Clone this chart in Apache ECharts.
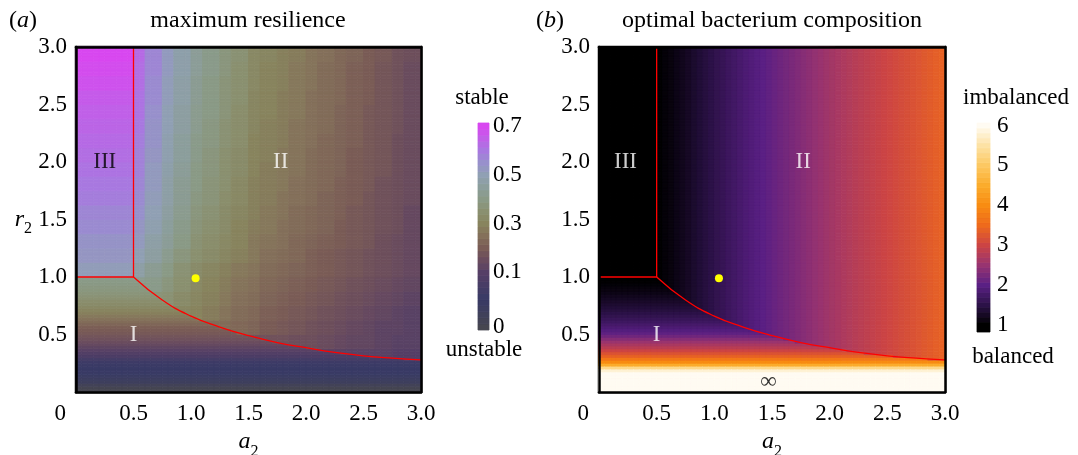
<!DOCTYPE html>
<html>
<head>
<meta charset="utf-8">
<title>maximum resilience / optimal bacterium composition</title>
<script src="https://cdn.jsdelivr.net/npm/echarts@6/dist/echarts.min.js"></script>
<style>
  html, body { margin: 0; padding: 0; background: #fff; }
  #chart { width: 1078px; height: 455px; }
</style>
</head>
<body>
<div id="chart"></div>
<script>
// fine cell centres shared by both panels (a2 step 0.05, r2 step 0.025)
var cellA2 = [0.025, 0.075, 0.125, 0.175, 0.225, 0.275, 0.325, 0.375, 0.425, 0.475,
              0.525, 0.575, 0.625, 0.675, 0.725, 0.775, 0.825, 0.875, 0.925, 0.975,
              1.025, 1.075, 1.125, 1.175, 1.225, 1.275, 1.325, 1.375, 1.425, 1.475,
              1.525, 1.575, 1.625, 1.675, 1.725, 1.775, 1.825, 1.875, 1.925, 1.975,
              2.025, 2.075, 2.125, 2.175, 2.225, 2.275, 2.325, 2.375, 2.425, 2.475,
              2.525, 2.575, 2.625, 2.675, 2.725, 2.775, 2.825, 2.875, 2.925, 2.975];
var cellR2 = [0.0125, 0.0375, 0.0625, 0.0875, 0.1125, 0.1375, 0.1625, 0.1875,
              0.2125, 0.2375, 0.2625, 0.2875, 0.3125, 0.3375, 0.3625, 0.3875,
              0.4125, 0.4375, 0.4625, 0.4875, 0.5125, 0.5375, 0.5625, 0.5875,
              0.6125, 0.6375, 0.6625, 0.6875, 0.7125, 0.7375, 0.7625, 0.7875,
              0.8125, 0.8375, 0.8625, 0.8875, 0.9125, 0.9375, 0.9625, 0.9875,
              1.0125, 1.0375, 1.0625, 1.0875, 1.1125, 1.1375, 1.1625, 1.1875,
              1.2125, 1.2375, 1.2625, 1.2875, 1.3125, 1.3375, 1.3625, 1.3875,
              1.4125, 1.4375, 1.4625, 1.4875, 1.5125, 1.5375, 1.5625, 1.5875,
              1.6125, 1.6375, 1.6625, 1.6875, 1.7125, 1.7375, 1.7625, 1.7875,
              1.8125, 1.8375, 1.8625, 1.8875, 1.9125, 1.9375, 1.9625, 1.9875,
              2.0125, 2.0375, 2.0625, 2.0875, 2.1125, 2.1375, 2.1625, 2.1875,
              2.2125, 2.2375, 2.2625, 2.2875, 2.3125, 2.3375, 2.3625, 2.3875,
              2.4125, 2.4375, 2.4625, 2.4875, 2.5125, 2.5375, 2.5625, 2.5875,
              2.6125, 2.6375, 2.6625, 2.6875, 2.7125, 2.7375, 2.7625, 2.7875,
              2.8125, 2.8375, 2.8625, 2.8875, 2.9125, 2.9375, 2.9625, 2.9875];

// panel (a): resilience on a coarse grid (step 0.125), rows from r2 = 3 down to 0
var resA2 = [0.0625, 0.1875, 0.3125, 0.4375, 0.5625, 0.6875, 0.8125, 0.9375, 1.0625, 1.1875, 1.3125, 1.4375,
             1.5625, 1.6875, 1.8125, 1.9375, 2.0625, 2.1875, 2.3125, 2.4375, 2.5625, 2.6875, 2.8125, 2.9375];
var resR2 = [0.0625, 0.1875, 0.3125, 0.4375, 0.5625, 0.6875, 0.8125, 0.9375, 1.0625, 1.1875, 1.3125, 1.4375,
             1.5625, 1.6875, 1.8125, 1.9375, 2.0625, 2.1875, 2.3125, 2.4375, 2.5625, 2.6875, 2.8125, 2.9375];
var resilience = [
  [0.70,0.70,0.70,0.70,0.63,0.57,0.52,0.48,0.44,0.41,0.38,0.36,0.32,0.31,0.29,0.28,0.26,0.25,0.23,0.22,0.20,0.19,0.17,0.16],
  [0.69,0.69,0.69,0.69,0.62,0.57,0.52,0.48,0.44,0.41,0.38,0.35,0.32,0.30,0.29,0.27,0.26,0.24,0.23,0.21,0.20,0.18,0.17,0.15],
  [0.68,0.68,0.68,0.68,0.62,0.56,0.51,0.47,0.43,0.40,0.37,0.35,0.32,0.30,0.29,0.27,0.26,0.24,0.23,0.21,0.20,0.18,0.17,0.15],
  [0.66,0.66,0.66,0.66,0.61,0.56,0.51,0.47,0.43,0.40,0.37,0.35,0.31,0.30,0.28,0.27,0.25,0.24,0.23,0.21,0.20,0.18,0.17,0.15],
  [0.65,0.65,0.65,0.65,0.61,0.55,0.50,0.46,0.42,0.40,0.37,0.34,0.31,0.30,0.28,0.27,0.25,0.24,0.22,0.21,0.19,0.18,0.17,0.15],
  [0.64,0.64,0.64,0.64,0.60,0.54,0.50,0.46,0.42,0.39,0.36,0.34,0.31,0.29,0.28,0.26,0.25,0.24,0.22,0.21,0.19,0.18,0.17,0.15],
  [0.63,0.63,0.63,0.63,0.59,0.54,0.49,0.45,0.41,0.39,0.36,0.34,0.30,0.29,0.28,0.26,0.25,0.23,0.22,0.21,0.19,0.18,0.16,0.15],
  [0.62,0.62,0.62,0.62,0.58,0.53,0.49,0.45,0.41,0.38,0.35,0.33,0.30,0.29,0.27,0.26,0.24,0.23,0.22,0.20,0.19,0.18,0.16,0.15],
  [0.61,0.61,0.61,0.61,0.58,0.52,0.48,0.44,0.40,0.38,0.35,0.33,0.30,0.28,0.27,0.26,0.24,0.23,0.22,0.20,0.19,0.18,0.16,0.15],
  [0.60,0.60,0.60,0.60,0.57,0.52,0.47,0.43,0.40,0.37,0.35,0.32,0.29,0.28,0.27,0.25,0.24,0.23,0.21,0.20,0.19,0.17,0.16,0.15],
  [0.59,0.59,0.59,0.59,0.56,0.51,0.47,0.43,0.39,0.37,0.34,0.32,0.29,0.28,0.26,0.25,0.24,0.22,0.21,0.20,0.18,0.17,0.16,0.15],
  [0.57,0.57,0.57,0.57,0.55,0.50,0.46,0.42,0.38,0.36,0.33,0.31,0.29,0.27,0.26,0.24,0.23,0.22,0.21,0.19,0.18,0.17,0.16,0.14],
  [0.56,0.56,0.56,0.56,0.53,0.49,0.45,0.41,0.37,0.35,0.33,0.30,0.28,0.27,0.25,0.24,0.23,0.22,0.20,0.19,0.18,0.17,0.16,0.14],
  [0.54,0.54,0.54,0.54,0.52,0.47,0.44,0.40,0.36,0.34,0.32,0.30,0.27,0.26,0.25,0.23,0.22,0.21,0.20,0.19,0.18,0.16,0.15,0.14],
  [0.53,0.53,0.53,0.53,0.50,0.46,0.42,0.38,0.35,0.33,0.31,0.29,0.27,0.25,0.24,0.23,0.21,0.20,0.19,0.18,0.17,0.16,0.15,0.14],
  [0.51,0.51,0.51,0.51,0.47,0.43,0.40,0.36,0.33,0.31,0.29,0.27,0.26,0.24,0.23,0.22,0.21,0.20,0.19,0.18,0.17,0.16,0.15,0.14],
  [0.42,0.42,0.42,0.42,0.42,0.41,0.38,0.35,0.32,0.30,0.28,0.26,0.25,0.23,0.22,0.21,0.20,0.19,0.18,0.17,0.16,0.15,0.14,0.13],
  [0.37,0.37,0.37,0.37,0.37,0.37,0.36,0.33,0.31,0.29,0.27,0.25,0.24,0.22,0.21,0.20,0.19,0.18,0.17,0.16,0.15,0.14,0.13,0.12],
  [0.31,0.31,0.31,0.31,0.31,0.31,0.31,0.31,0.30,0.28,0.26,0.24,0.23,0.21,0.20,0.19,0.18,0.17,0.16,0.15,0.14,0.13,0.12,0.11],
  [0.24,0.24,0.24,0.24,0.24,0.24,0.24,0.24,0.24,0.24,0.24,0.23,0.22,0.20,0.19,0.18,0.17,0.16,0.15,0.14,0.13,0.12,0.12,0.11],
  [0.17,0.17,0.17,0.17,0.17,0.17,0.17,0.17,0.17,0.17,0.17,0.17,0.17,0.17,0.17,0.16,0.16,0.15,0.14,0.13,0.13,0.12,0.11,0.11],
  [0.11,0.11,0.11,0.11,0.11,0.11,0.11,0.11,0.11,0.11,0.11,0.11,0.11,0.11,0.11,0.11,0.11,0.11,0.11,0.11,0.11,0.11,0.10,0.10],
  [0.06,0.06,0.06,0.06,0.06,0.06,0.06,0.06,0.06,0.06,0.06,0.06,0.06,0.06,0.06,0.06,0.06,0.06,0.06,0.06,0.06,0.06,0.06,0.06],
  [0.02,0.02,0.02,0.02,0.02,0.02,0.02,0.02,0.02,0.02,0.02,0.02,0.02,0.02,0.02,0.02,0.02,0.02,0.02,0.02,0.02,0.02,0.02,0.02]
];
// panel (a), region I (below the boundary): horizontal bands, one value per fine r2 row (r2 < 1)
var resIByR2 = [0.000, 0.005, 0.015, 0.030, 0.035, 0.040, 0.045, 0.048,
                0.052, 0.056, 0.060, 0.072, 0.084, 0.095, 0.108, 0.122,
                0.138, 0.152, 0.165, 0.178, 0.190, 0.197, 0.205, 0.225,
                0.240, 0.258, 0.272, 0.290, 0.305, 0.318, 0.330, 0.342,
                0.355, 0.365, 0.375, 0.383, 0.390, 0.397, 0.403, 0.410];

// panel (b): composition above the boundary (regions II, III), one value per a2 column
var compByA2 = [1.00, 1.00, 1.00, 1.00, 1.00, 1.00, 1.00, 1.00, 1.00, 1.00,
                1.02, 1.06, 1.10, 1.15, 1.20, 1.26, 1.32, 1.38, 1.44, 1.50,
                1.56, 1.62, 1.68, 1.74, 1.80, 1.86, 1.91, 1.96, 2.01, 2.06,
                2.11, 2.16, 2.21, 2.26, 2.31, 2.36, 2.41, 2.46, 2.51, 2.56,
                2.61, 2.65, 2.70, 2.74, 2.79, 2.83, 2.87, 2.91, 2.95, 2.99,
                3.03, 3.07, 3.11, 3.15, 3.19, 3.23, 3.27, 3.31, 3.35, 3.39];
// panel (b): composition below the boundary (region I), one value per r2 row, r2 < 1 (6 = the ∞ band)
var compByR2 = [6, 6, 6, 6, 6, 6, 6, 5.8,
                5.3, 4.5, 4.0, 3.7, 3.4, 3.2, 3.0, 2.82,
                2.67, 2.52, 2.35, 2.18, 2.04, 1.94, 1.86, 1.78,
                1.70, 1.63, 1.56, 1.50, 1.44, 1.39, 1.34, 1.29,
                1.24, 1.20, 1.15, 1.11, 1.08, 1.05, 1.02, 1.00];

// region boundaries and the marked point (same in both panels)
var cornerLine = [[0, 1], [0.5, 1], [0.5, 3]];
var boundaryCurve = [[0.5, 1.0], [0.75, 0.80], [1.0, 0.66], [1.25, 0.565], [1.5, 0.49], [1.75, 0.43],
                     [2.0, 0.385], [2.25, 0.345], [2.5, 0.315], [2.75, 0.295], [3.0, 0.28]];
var refPoint = [[1.04, 0.99]];

// colour bars
var cbLevelsA = [0, 0.011, 0.022, 0.033, 0.044, 0.056, 0.067, 0.078, 0.089, 0.1,
                 0.125, 0.15, 0.175, 0.2, 0.225, 0.25, 0.275, 0.3, 0.325, 0.35, 0.375, 0.4,
                 0.425, 0.45, 0.475, 0.5, 0.525, 0.55, 0.575, 0.6, 0.625, 0.65, 0.675, 0.7];
var cbTicksA = ['0', '0.1', '0.3', '0.5', '0.7'];
var cbLevelsB = [1, 1, 1.125, 1.25, 1.375, 1.5, 1.625, 1.75, 1.875, 2, 2.125, 2.25, 2.375, 2.5, 2.625, 2.75,
                 2.875, 3, 3.125, 3.25, 3.375, 3.5, 3.625, 3.75, 3.875, 4, 4.125, 4.25, 4.375, 4.5, 4.625,
                 4.75, 4.875, 5, 5.125, 5.25, 5.375, 5.5, 5.625, 5.75, 5.875, 6];
var cbTicksB = ['1', '2', '3', '4', '5', '6'];

// build cell tables
function boundaryAt(a) {
    if (a <= 0.5) return 1;
    for (var k = 1; k < boundaryCurve.length; k++) {
        var p = boundaryCurve[k - 1], q = boundaryCurve[k];
        if (a <= q[0]) return p[1] + (q[1] - p[1]) * (a - p[0]) / (q[0] - p[0]);
    }
    return boundaryCurve[boundaryCurve.length - 1][1];
}
// coarse table cell that contains (a, r)
function coarseRes(a, r) {
    var step = resA2[1] - resA2[0];
    var i = Math.min(resA2.length - 1, Math.floor(a / step));
    var j = Math.min(resR2.length - 1, Math.floor(r / step));
    return resilience[resR2.length - 1 - j][i];
}

var resData = [], compData = [];
cellA2.forEach(function (a, i) {
    var edge = boundaryAt(a);
    cellR2.forEach(function (r, j) {
        var below = r < edge;
        resData.push([a, r, below ? resIByR2[j] : coarseRes(a, r)]);
        compData.push([a, r, below ? compByR2[j] : compByA2[i]]);
    });
});

var cbDataA = cbLevelsA.map(function (v, k) { return [0, k, v]; });
var cbDataB = cbLevelsB.map(function (v, k) { return [0, k, v]; });

var FONT = 'Liberation Serif';
var frame = { show: true, onZero: false, lineStyle: { color: '#000', width: 2.5 } };
var nameRich = {
    i: { fontFamily: FONT, fontSize: 24, fontStyle: 'italic', color: '#000' },
    s: { fontFamily: FONT, fontSize: 16, color: '#000', padding: [19, 0, 0, 0] }
};

function valueX(grid) {
    return {
        type: 'value', gridIndex: grid, min: 0, max: 3, interval: 0.5, position: 'bottom', z: 5,
        axisLine: frame, axisTick: { show: false }, splitLine: { show: false },
        axisLabel: {
            fontFamily: FONT, fontSize: 23, color: '#000', margin: 10, alignMinLabel: 'right',
            formatter: function (v) { return v === 0 ? '{z|0}' : v.toFixed(1); },
            rich: { z: { fontFamily: FONT, fontSize: 23, color: '#000', padding: [0, 10, 0, 0] } }
        },
        name: '{i|a}{s|2}', nameLocation: 'middle', nameGap: 24,
        nameTextStyle: { rich: nameRich }
    };
}
function valueY(grid, withName) {
    return {
        type: 'value', gridIndex: grid, min: 0, max: 3, interval: 0.5, position: 'left', z: 5,
        axisLine: frame, axisTick: { show: false }, splitLine: { show: false },
        axisLabel: {
            fontFamily: FONT, fontSize: 23, color: '#000', margin: 9,
            formatter: function (v) { return v === 0 ? '' : v.toFixed(1); }
        },
        name: withName ? '{i|r}{s|2}' : '', nameLocation: 'middle', nameRotate: 0, nameGap: 44,
        nameTextStyle: { rich: nameRich }
    };
}
// top / right edges of the frame
function frameAxis(grid, pos) {
    return {
        type: 'value', gridIndex: grid, min: 0, max: 3, position: pos, z: 5,
        axisLine: frame, axisTick: { show: false }, axisLabel: { show: false }, splitLine: { show: false }
    };
}
function barAxisY(grid, data, ticks, margin, skipFirst) {
    return {
        type: 'category', gridIndex: grid, data: data, position: 'right',
        axisLine: { show: false }, axisTick: { show: false },
        axisLabel: {
            interval: 0, fontFamily: FONT, fontSize: 23, color: '#000', margin: margin,
            formatter: function (v, idx) {
                if (skipFirst && idx === 0) return '';
                return ticks.indexOf(String(v)) >= 0 ? String(v) : '';
            }
        }
    };
}
// filled cells, coloured by the visualMap
function cellSeries(xi, yi, data, dx, dy) {
    return {
        type: 'custom', xAxisIndex: xi, yAxisIndex: yi, data: data, silent: true, z: 2,
        encode: { x: 0, y: 1 },
        renderItem: function (params, api) {
            var x = api.value(0), y = api.value(1);
            var c = api.coord([x, y]);
            var s = api.size([dx, dy], [x, y]);
            var col = api.visual('color');
            return {
                type: 'rect',
                shape: { x: c[0] - s[0] / 2, y: c[1] - s[1] / 2, width: s[0], height: s[1] },
                style: { fill: col, stroke: col, lineWidth: 0.8 }
            };
        }
    };
}
function regionLabels(grid, items) {
    return {
        type: 'scatter', xAxisIndex: grid * 2, yAxisIndex: grid * 2, symbolSize: 1, z: 6,
        itemStyle: { color: 'rgba(0,0,0,0)' }, silent: true,
        label: { show: true, position: 'inside', formatter: '{b}', fontFamily: FONT, fontSize: 23 },
        data: items
    };
}
function redLine(grid, data, smooth) {
    return {
        type: 'line', xAxisIndex: grid * 2, yAxisIndex: grid * 2, data: data, smooth: smooth,
        symbol: 'none', z: 4, silent: true, lineStyle: { color: '#ff0000', width: 1.3 }
    };
}
function panelTag(letter, left) {
    return {
        text: '{p|(}{i|' + letter + '}{p|)}', left: left, top: 9, padding: 0,
        textStyle: {
            fontWeight: 'normal',
            rich: {
                p: { fontFamily: FONT, fontSize: 24, fontWeight: 'normal', color: '#000' },
                i: { fontFamily: FONT, fontSize: 24, fontWeight: 'normal', fontStyle: 'italic', color: '#000' }
            }
        }
    };
}

var chart = echarts.init(document.getElementById('chart'));
var option = {
    animation: false,
    backgroundColor: '#fff',
    textStyle: { fontFamily: FONT },
    title: [
        panelTag('a', 9),
        { text: 'maximum resilience', left: 248, top: 9, padding: 0, textAlign: 'center',
          textStyle: { fontFamily: FONT, fontSize: 24, fontWeight: 'normal', color: '#000' } },
        panelTag('b', 536),
        { text: 'optimal bacterium composition', left: 772, top: 9, padding: 0, textAlign: 'center',
          textStyle: { fontFamily: FONT, fontSize: 24, fontWeight: 'normal', color: '#000' } }
    ],
    grid: [
        { left: 76, top: 47, width: 345, height: 345, show: true, borderColor: '#000', borderWidth: 2.5, outerBoundsMode: 'none' },
        { left: 599, top: 47, width: 346, height: 345, show: true, borderColor: '#000', borderWidth: 2.5, outerBoundsMode: 'none' },
        { left: 478, top: 123, width: 11, height: 207, outerBoundsMode: 'none' },
        { left: 977, top: 123, width: 13, height: 209, outerBoundsMode: 'none' }
    ],
    xAxis: [
        valueX(0),
        frameAxis(0, 'top'),
        valueX(1),
        frameAxis(1, 'top'),
        { type: 'category', gridIndex: 2, data: [''], show: false },
        { type: 'category', gridIndex: 3, data: [''], show: false }
    ],
    yAxis: [
        valueY(0, true),
        frameAxis(0, 'right'),
        valueY(1, false),
        frameAxis(1, 'right'),
        barAxisY(2, cbLevelsA, cbTicksA, 4, false),
        barAxisY(3, cbLevelsB, cbTicksB, 7, true)
    ],
    visualMap: [
        { type: 'continuous', show: false, min: 0, max: 0.7, dimension: 2, seriesIndex: [0, 2],
          inRange: { color: ['#464650', '#383a66', '#553f66', '#6a4c5e', '#7a5c56', '#84705a', '#88845e', '#8a9070',
                             '#8a9a86', '#8c9e9c', '#90a0b4', '#9890cc', '#a878e0', '#c060e8', '#d848f0'] } },
        { type: 'continuous', show: false, min: 1, max: 6, dimension: 2, seriesIndex: [1, 3],
          inRange: { color: ['#000000', '#2c1248', '#5a2084', '#983470', '#cc4444', '#ee6a1c',
                             '#f88c12', '#fbac2c', '#fcc862', '#fde2a4', '#fffbf2'] } }
    ],
    graphic: [
        { type: 'text', x: 482, y: 98, silent: true, style: { text: 'stable', font: '23px "Liberation Serif"', fill: '#000', align: 'center', verticalAlign: 'middle' } },
        { type: 'text', x: 484, y: 350, silent: true, style: { text: 'unstable', font: '23px "Liberation Serif"', fill: '#000', align: 'center', verticalAlign: 'middle' } },
        { type: 'text', x: 1016, y: 98, silent: true, style: { text: 'imbalanced', font: '23px "Liberation Serif"', fill: '#000', align: 'center', verticalAlign: 'middle' } },
        { type: 'text', x: 1013, y: 357, silent: true, style: { text: 'balanced', font: '23px "Liberation Serif"', fill: '#000', align: 'center', verticalAlign: 'middle' } }
    ],
    series: [
        cellSeries(0, 0, resData, 0.05, 0.025),
        cellSeries(2, 2, compData, 0.05, 0.025),
        cellSeries(4, 4, cbDataA, 1, 1),
        cellSeries(5, 5, cbDataB, 1, 1),
        redLine(0, cornerLine, false),
        redLine(0, boundaryCurve, true),
        redLine(1, cornerLine, false),
        redLine(1, boundaryCurve, true),
        { type: 'scatter', xAxisIndex: 0, yAxisIndex: 0, data: refPoint, symbolSize: 8, z: 6, silent: true, itemStyle: { color: '#ffff00', opacity: 1 } },
        { type: 'scatter', xAxisIndex: 2, yAxisIndex: 2, data: refPoint, symbolSize: 8, z: 6, silent: true, itemStyle: { color: '#ffff00', opacity: 1 } },
        regionLabels(0, [
            { name: 'III', value: [0.25, 2.0], label: { color: '#000' } },
            { name: 'II', value: [1.78, 2.0], label: { color: '#fff' } },
            { name: 'I', value: [0.5, 0.5], label: { color: '#fff' } }
        ]),
        regionLabels(1, [
            { name: 'III', value: [0.23, 2.0], label: { color: '#fff' } },
            { name: 'II', value: [1.77, 2.0], label: { color: '#fff' } },
            { name: 'I', value: [0.5, 0.5], label: { color: '#fff' } },
            { name: '∞', value: [1.47, 0.09], label: { color: '#000' } }
        ])
    ]
};
chart.setOption(option);
</script>
</body>
</html>
